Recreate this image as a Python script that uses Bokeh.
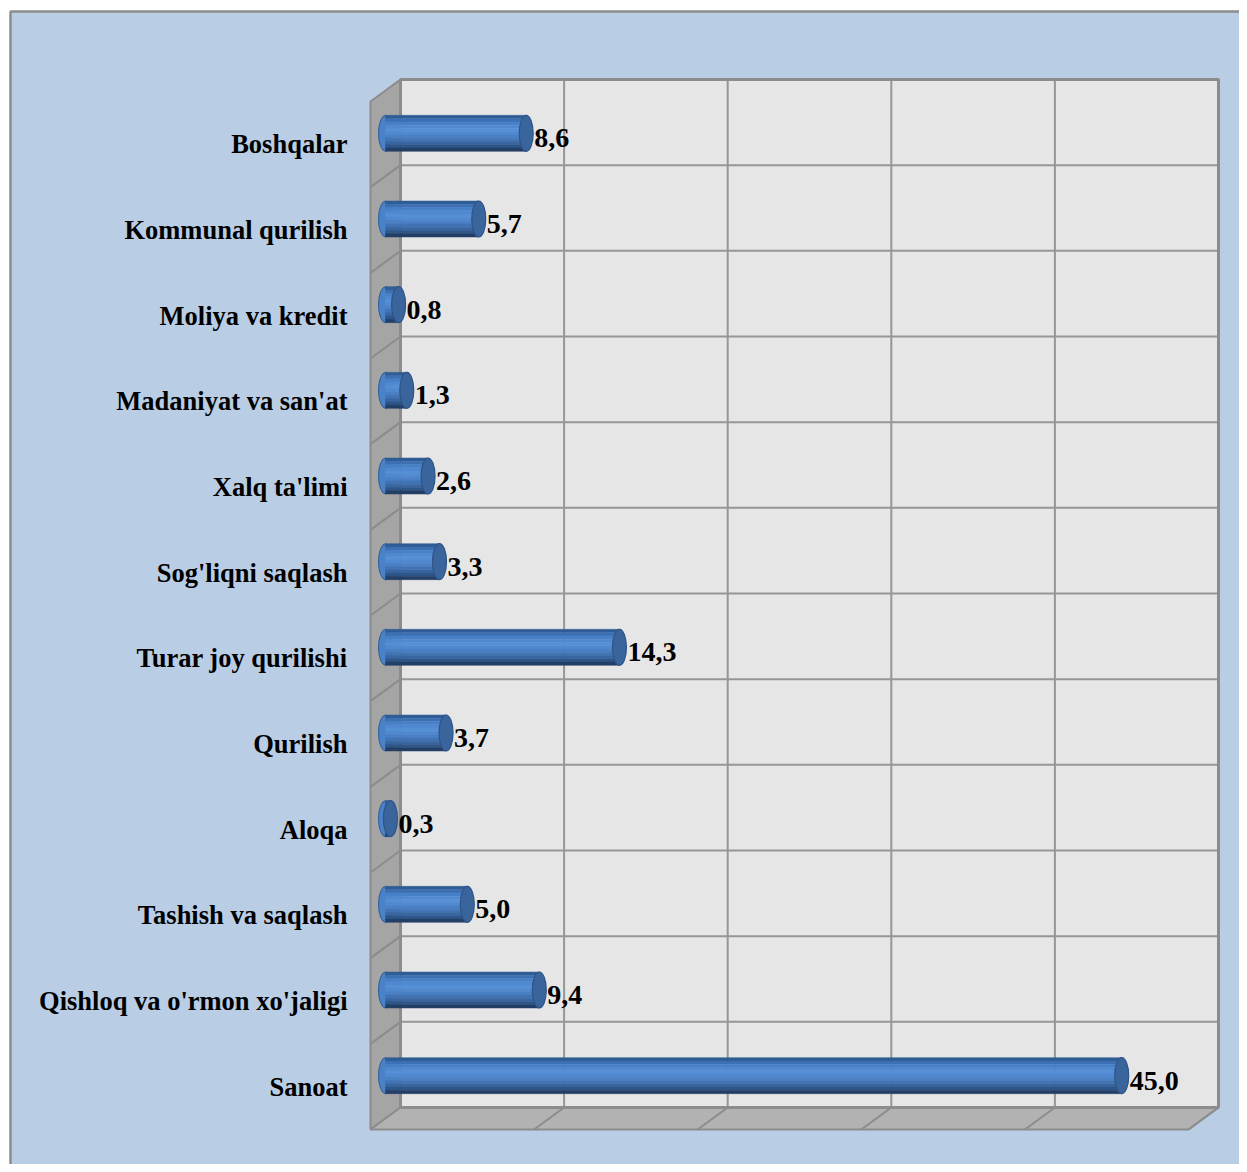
import numpy as np
from bokeh.plotting import figure
from bokeh.models import Range1d
from bokeh.core.properties import value
from bokeh.embed import file_html
from bokeh.resources import INLINE

# ---------------- data (top to bottom as shown) ----------------
categories = ["Boshqalar", "Kommunal qurilish", "Moliya va kredit",
              "Madaniyat va san'at", "Xalq ta'limi", "Sog'liqni saqlash",
              "Turar joy qurilishi", "Qurilish", "Aloqa",
              "Tashish va saqlash", "Qishloq va o'rmon xo'jaligi", "Sanoat"]
values = [8.6, 5.7, 0.8, 1.3, 2.6, 3.3, 14.3, 3.7, 0.3, 5.0, 9.4, 45.0]
x_ticks = [0, 10, 20, 30, 40, 50]

# bottom-to-top order for index positions
cats = categories[::-1]
vals = values[::-1]
labels = [f"{v:.1f}".replace(".", ",") for v in vals]
n = len(cats)

# ---------------- layout (reference pixels -> data) ----------------
X0, X50 = 400.0, 1218.0
K = (X50 - X0) / (x_ticks[-1] - x_ticks[0])   # px per value unit
YTOP, YBOT = 79.0, 1107.0
B = (YBOT - YTOP) / n                          # px per category band

def vx(px):
    return (px - X0) / K

def cy(py):
    return (YBOT - py) / B

DV = -30.0 / K     # depth offset in x
DC = -22.0 / B     # depth offset in y
VMAX = x_ticks[-1]

W, H = 1239, 1164
p = figure(width=W, height=H, output_backend="svg", toolbar_location=None,
           x_range=Range1d(vx(0), vx(W)), y_range=Range1d(cy(H), cy(0)),
           min_border=0, background_fill_color="white", border_fill_color="white",
           outline_line_color=None)
p.axis.visible = False
p.grid.visible = False

# outer panel
p.quad(left=[vx(10)], right=[vx(1300)], top=[cy(11)], bottom=[cy(1250)],
       fill_color="#B9CDE5", line_color="#8C8C8C", line_width=2.5)

# left wall
p.patch([0, 0, DV, DV], [n, 0, DC, n + DC], fill_color="#A5A5A5",
        line_color="#8C8C8C", line_width=2)
p.segment([0] * (n - 1), list(range(1, n)), [DV] * (n - 1),
          [c + DC for c in range(1, n)], line_color="#8C8C8C", line_width=2)

# floor
p.patch([0, VMAX, VMAX + DV, DV], [0, 0, DC, DC], fill_color="#B2B2B2",
        line_color="#8C8C8C", line_width=2)
p.segment(x_ticks[1:], [0] * (len(x_ticks) - 1),
          [t + DV for t in x_ticks[1:]], [DC] * (len(x_ticks) - 1),
          line_color="#8C8C8C", line_width=2)

# back wall
p.quad(left=[0], right=[VMAX], top=[n], bottom=[0], fill_color="#E6E6E6",
       line_color=None)
p.segment(x_ticks[1:-1], [0] * (len(x_ticks) - 2), x_ticks[1:-1], [n] * (len(x_ticks) - 2),
          line_color="#969696", line_width=2)
p.segment([0] * (n - 1), list(range(1, n)), [VMAX] * (n - 1), list(range(1, n)),
          line_color="#969696", line_width=2)
p.patch([0, VMAX, VMAX, 0], [n, n, 0, 0], fill_color=None, line_color="#8C8C8C",
        line_width=3)

# cylinders
yc = np.array([i + 0.5 + DC / 2 for i in range(n)])
hb = 36.0 / B
cap_w = 14.0 / K
x_start = np.full(n, DV / 2)
x_end = np.array(vals) + DV / 2

p.ellipse(x=x_start, y=yc, width=cap_w, height=hb, fill_color="#4A82C8",
          line_color="#2F5C94", line_width=1)
strip_colors = ["#2F5C94", "#3D70B2", "#4780C6", "#5089D0", "#5590D6",
                "#5189D0", "#4A80C4", "#4274B5", "#3966A0", "#2E5688", "#233F66"]
ns = len(strip_colors)
for k, col in enumerate(strip_colors):
    top = yc + hb / 2 - k * hb / ns
    bot = yc + hb / 2 - (k + 1) * hb / ns
    p.quad(left=x_start, right=x_end, top=top, bottom=bot, fill_color=col,
           line_color=col, line_width=0.5)
p.ellipse(x=x_end, y=yc, width=cap_w, height=hb, fill_color="#3A659C",
          line_color="#2D5488", line_width=1.2)

# value labels
p.text(x=x_end + 8.0 / K, y=yc - 5.0 / B, text=labels,
       text_font=value("Liberation Serif"), text_font_style="bold",
       text_font_size="28px", text_align="left", text_baseline="middle",
       text_color="black")

# category labels
p.text(x=[vx(347)] * n, y=[i + 0.5 + DC for i in range(n)], text=cats,
       text_font=value("Liberation Serif"), text_font_style="bold",
       text_font_size="26.5px", text_align="right", text_baseline="middle",
       text_color="black")

open("out.html", "w").write(file_html(p, INLINE))
